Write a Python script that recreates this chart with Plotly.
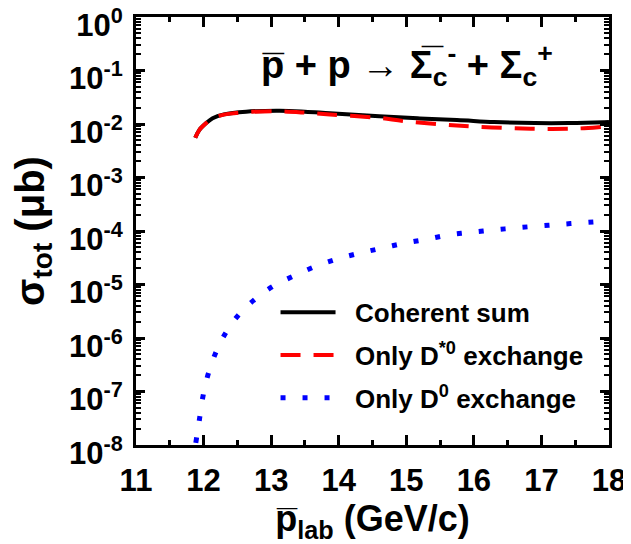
import plotly.graph_objects as go

# ---- data ----
p_sum = [11.877, 11.936, 12.035, 12.134, 12.3, 12.63, 13.125, 13.5, 13.87, 14.6, 15.2, 15.75, 16.3, 16.9, 17.4, 17.93, 18.0]
sig_sum = [5.55e-3, 7.7e-3, 1.03e-2, 1.28e-2, 1.51e-2, 1.70e-2, 1.77e-2, 1.70e-2, 1.59e-2, 1.40e-2, 1.27e-2, 1.19e-2, 1.09e-2, 1.04e-2, 1.04e-2, 1.08e-2, 1.09e-2]

p_dstar = [11.877, 11.936, 12.035, 12.134, 12.3, 12.63, 13.125, 13.5, 13.87, 14.6, 14.95, 15.5, 15.97, 16.5, 17.0, 17.5, 17.9, 18.0]
sig_dstar = [5.55e-3, 7.7e-3, 1.03e-2, 1.28e-2, 1.50e-2, 1.67e-2, 1.72e-2, 1.63e-2, 1.50e-2, 1.30e-2, 1.14e-2, 9.9e-3, 9.0e-3, 8.4e-3, 8.1e-3, 8.2e-3, 8.8e-3, 9.0e-3]

p_d0 = [11.885, 11.936, 11.985, 12.06, 12.17, 12.318, 12.516, 12.758, 13.036, 13.333, 13.645, 13.968, 14.3, 14.63, 14.968, 15.3, 15.64, 15.97, 16.31, 16.64, 16.99, 17.34, 17.66, 17.85, 18.0]
sig_d0 = [1.10e-8, 2.84e-8, 7.4e-8, 1.95e-7, 4.95e-7, 1.19e-6, 2.69e-6, 5.28e-6, 9.4e-6, 1.44e-5, 2.15e-5, 2.96e-5, 3.83e-5, 4.75e-5, 5.89e-5, 7.0e-5, 8.5e-5, 9.5e-5, 1.05e-4, 1.15e-4, 1.25e-4, 1.35e-4, 1.44e-4, 1.50e-4, 1.55e-4]

x_tickvals = [11, 12, 13, 14, 15, 16, 17, 18]
x_minor_vals = [11.5, 12.5, 13.5, 14.5, 15.5, 16.5, 17.5]
y_tickvals = [1e0, 1e-1, 1e-2, 1e-3, 1e-4, 1e-5, 1e-6, 1e-7, 1e-8]
y_ticktext = ["<b>10<sup>0</sup></b>", "<b>10<sup>-1</sup></b>", "<b>10<sup>-2</sup></b>",
              "<b>10<sup>-3</sup></b>", "<b>10<sup>-4</sup></b>", "<b>10<sup>-5</sup></b>",
              "<b>10<sup>-6</sup></b>", "<b>10<sup>-7</sup></b>", "<b>10<sup>-8</sup></b>"]
y_minor_vals = [k * d for d in [1e-8, 1e-7, 1e-6, 1e-5, 1e-4, 1e-3, 1e-2, 1e-1] for k in range(2, 10)]

names = ["<b>\u00a0\u00a0Coherent sum</b>", "<b>\u00a0\u00a0Only D<sup>*0</sup> exchange</b>",
         "<b>\u00a0\u00a0Only D<sup>0</sup> exchange</b>"]

FONT = "Liberation Sans, Arial, sans-serif"
BLACK = "#000000"

fig = go.Figure()
fig.add_trace(go.Scatter(x=p_sum, y=sig_sum, mode="lines", name=names[0], legendgroup="a",
                         line=dict(color=BLACK, width=4, shape="spline")))
fig.add_trace(go.Scatter(x=p_dstar, y=sig_dstar, mode="lines", name=names[1], legendgroup="b",
                         line=dict(color="#ff0000", width=4, dash="20px,13px", shape="spline")))
fig.add_trace(go.Scatter(x=p_d0, y=sig_d0, mode="lines", name=names[2], legendgroup="c",
                         line=dict(color="#0000ff", width=5, dash="5px,17px", shape="spline")))

axis_common = dict(showgrid=False, zeroline=False, automargin=False, ticklabeloverflow="allow",
                   showline=True, linewidth=3, linecolor=BLACK, mirror="ticks",
                   ticks="inside", tickwidth=3, tickcolor=BLACK)

# the page body adds an 8px margin, so the figure is drawn 8px smaller to fit the window
fig.update_layout(
    template="none",
    width=623, height=536,
    margin=dict(l=127.5, r=21.5, t=9, b=99),
    paper_bgcolor="white", plot_bgcolor="white",
    font=dict(family=FONT, color=BLACK),
    showlegend=True,
    legend=dict(x=0.295, y=0.365, xanchor="left", yanchor="top",
                bgcolor="rgba(0,0,0,0)", font=dict(size=26, family=FONT),
                itemwidth=55, tracegroupgap=6, traceorder="grouped"),
    xaxis=dict(range=[11, 18], tickmode="array", tickvals=x_tickvals,
               ticktext=["<b>%d</b>" % v for v in x_tickvals], ticklen=10,
               minor=dict(tickmode="array", tickvals=x_minor_vals, ticks="inside", ticklen=5,
                          tickwidth=3, tickcolor=BLACK, showgrid=False),
               tickfont=dict(size=31, family=FONT), ticklabelstandoff=6,
               title=dict(text="<b>p\u0305<sub>lab</sub> (GeV/c)</b>", font=dict(size=36, family=FONT), standoff=10),
               **axis_common),
    yaxis=dict(type="log", range=[-8, 0], tickmode="array", tickvals=y_tickvals, ticktext=y_ticktext,
               ticklen=9,
               minor=dict(tickmode="array", tickvals=y_minor_vals, ticks="inside", ticklen=5,
                          tickwidth=2, tickcolor=BLACK, showgrid=False),
               tickfont=dict(size=31, family=FONT), ticklabelshift=8, ticklabelstandoff=4,
               title=dict(text="<b>\u03c3<sub>tot</sub> (\u03bcb)</b>", font=dict(size=40, family=FONT), standoff=14),
               **axis_common),
    annotations=[dict(xref="paper", yref="paper", x=0.573, y=0.888, xanchor="center", yanchor="middle",
                      showarrow=False,
                      text="<b>p\u0305 + p \u2192 \u03a3\u0305<sub>c</sub><sup>-</sup> + \u03a3<sub>c</sub><sup>+</sup></b>",
                      font=dict(size=38, family=FONT, color=BLACK))],
)

fig.write_html("out.html")
